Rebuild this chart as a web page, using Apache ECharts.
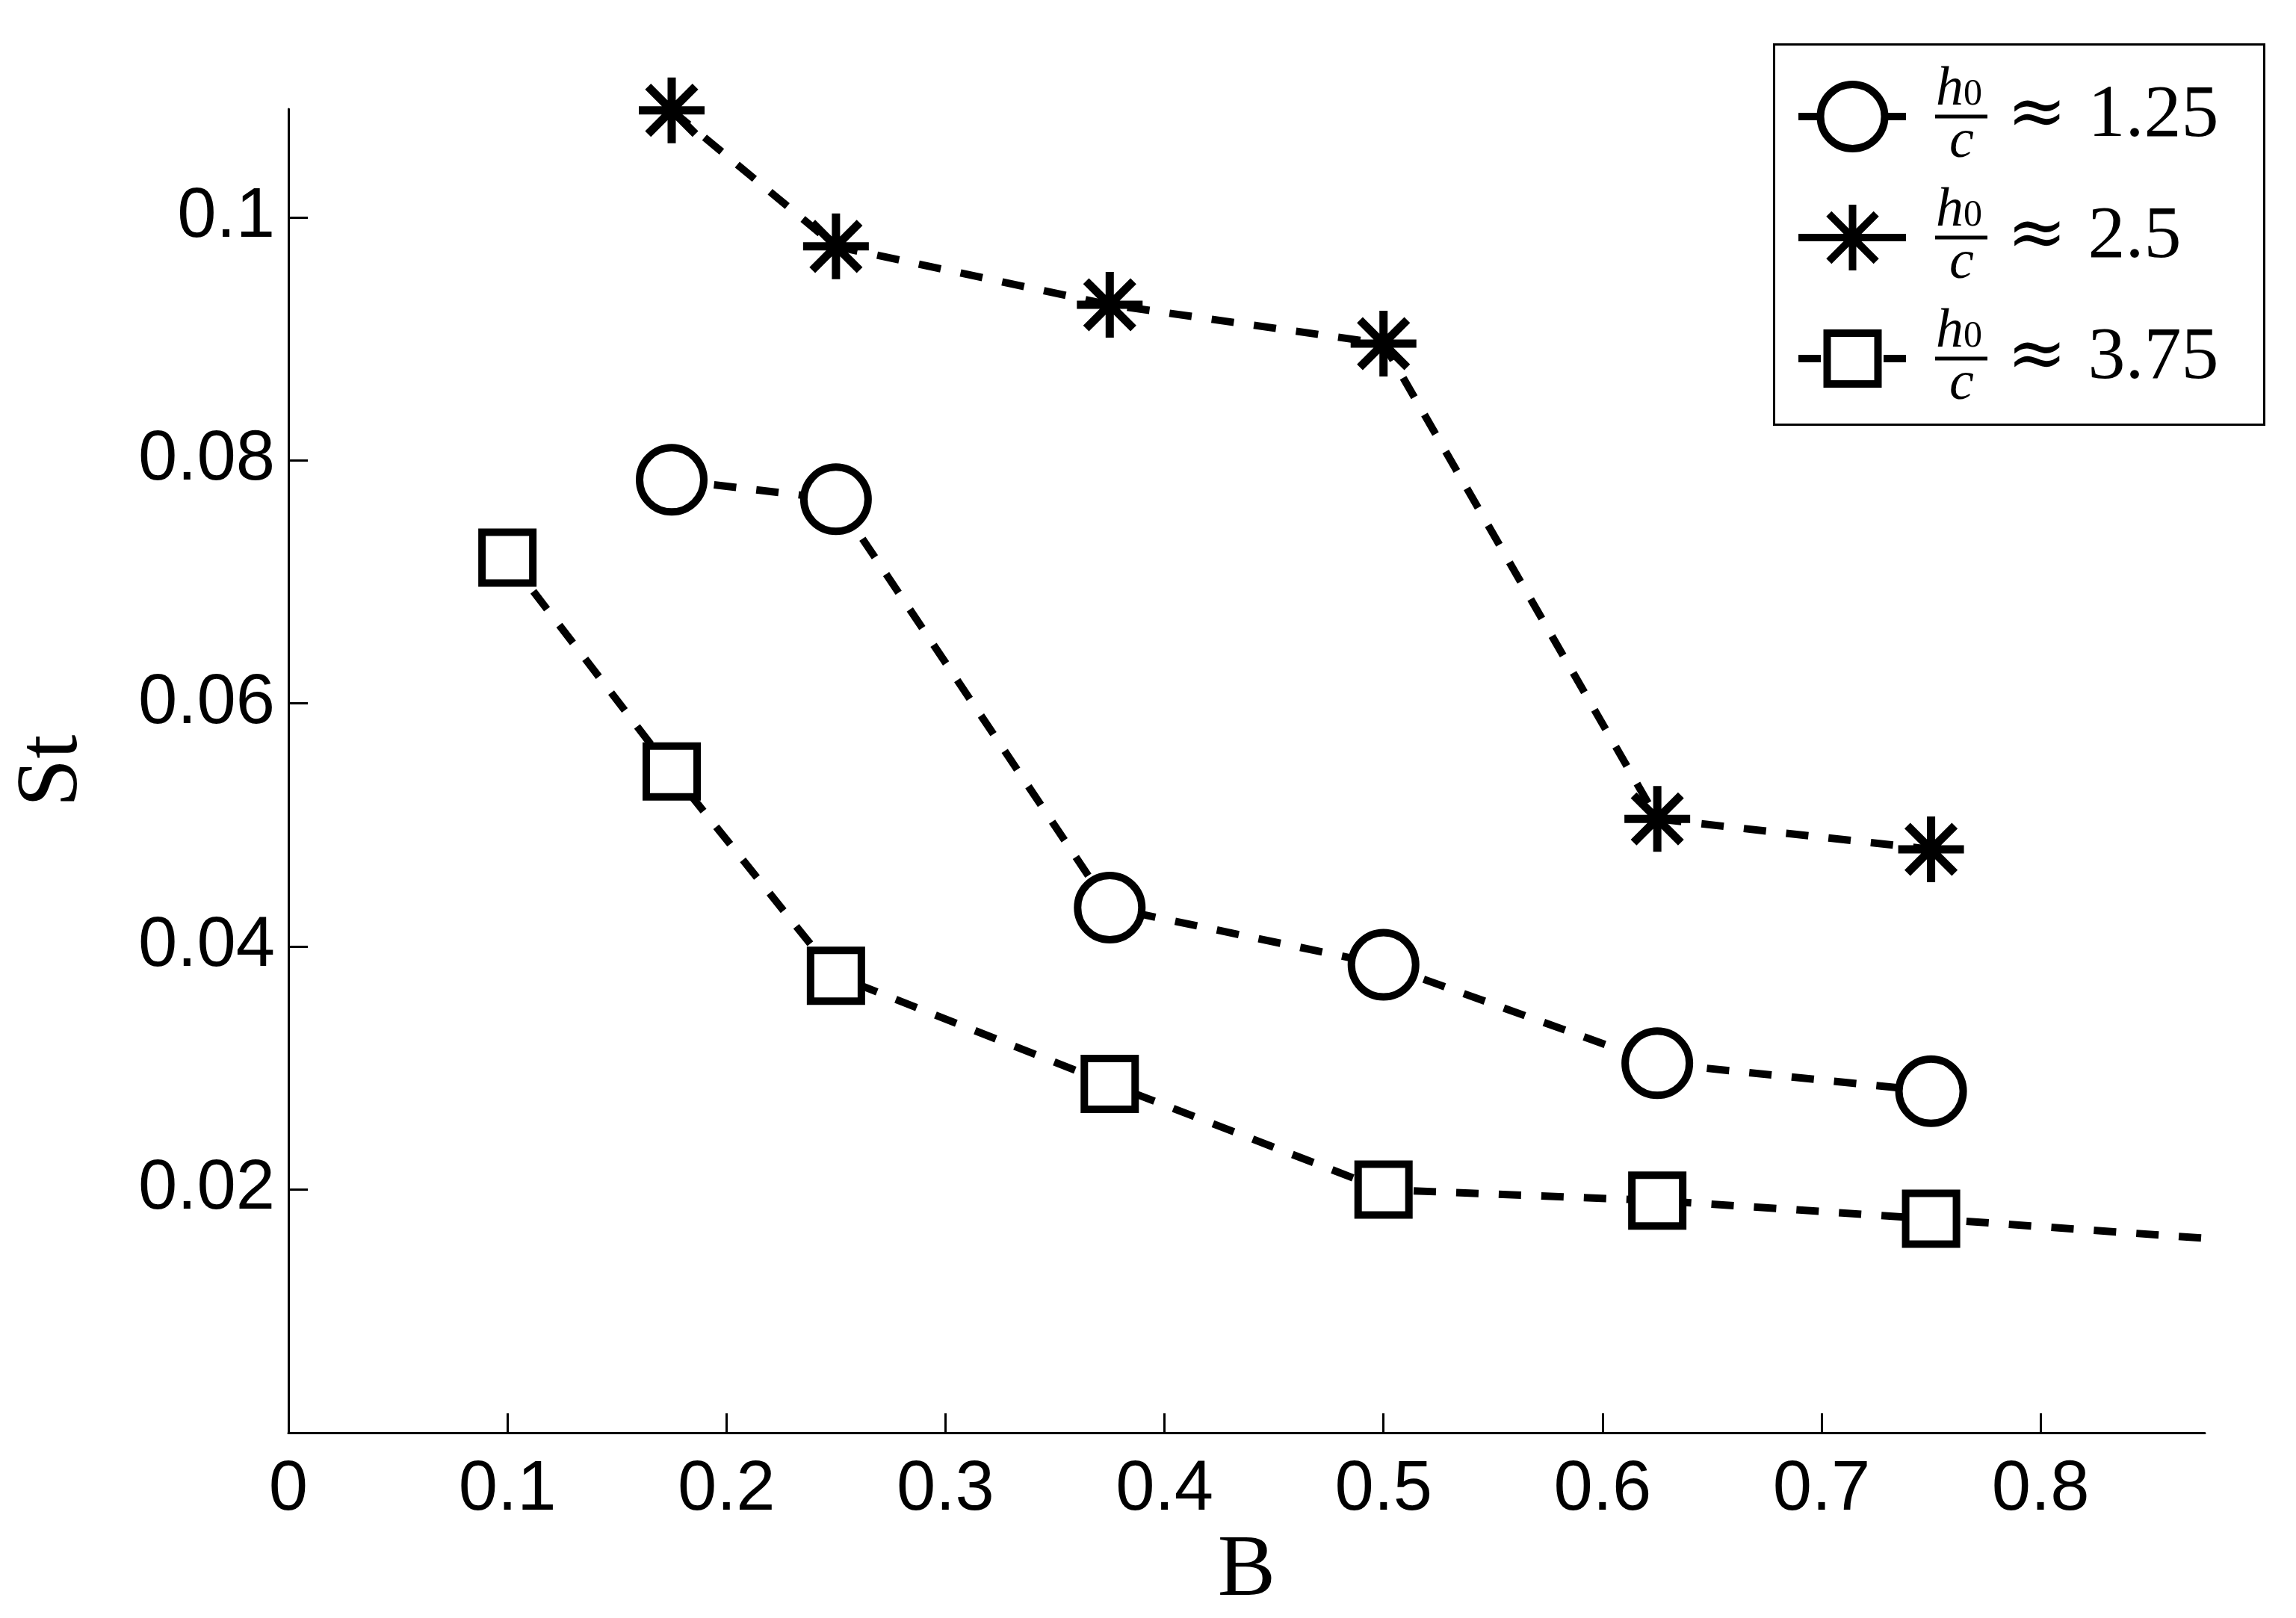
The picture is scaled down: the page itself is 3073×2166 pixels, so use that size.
<!DOCTYPE html>
<html>
<head>
<meta charset="utf-8">
<script src="https://cdn.jsdelivr.net/npm/echarts@6/dist/echarts.min.js"></script>
<style>
  html, body { margin: 0; padding: 0; background: #fff; }
  #chart { width: 3073px; height: 2166px; }
</style>
</head>
<body>
<div id="chart"></div>
<script>
// values
var bCircle = [0.175, 0.25, 0.375, 0.5, 0.625, 0.75]
var stCircle = [0.0784, 0.0768, 0.0432, 0.0385, 0.0304, 0.0281]
var bStar = [0.175, 0.25, 0.375, 0.5, 0.625, 0.75]
var stStar = [0.1088, 0.0976, 0.0928, 0.0896, 0.0505, 0.0480]
var bSquare = [0.1, 0.175, 0.25, 0.375, 0.5, 0.625, 0.75, 1.0]
var stSquare = [0.0720, 0.0544, 0.0376, 0.0287, 0.0200, 0.0191, 0.0176, 0.0144]

var ratios = ['1.25', '2.5', '3.75']
var seriesNames = ['h0/c ≈ 1.25', 'h0/c ≈ 2.5', 'h0/c ≈ 3.75']

var xTicks = [0, 0.1, 0.2, 0.3, 0.4, 0.5, 0.6, 0.7, 0.8]
var yTicks = [0.02, 0.04, 0.06, 0.08, 0.1]

var starPath = 'path://M0,-1L0,1M-1,0L1,0M-0.72,-0.72L0.72,0.72M-0.72,0.72L0.72,-0.72'
var dash = [30, 27]

function pairs(xs, ys) {
  return xs.map(function (x, i) { return [x, ys[i]] })
}

var chart = echarts.init(document.getElementById('chart'), null, { renderer: 'canvas' })

var richStyle = {
  sp1: { width: 34, lineHeight: 62 },
  h: { fontFamily: 'Liberation Serif', fontStyle: 'italic', fontSize: 74, lineHeight: 62, color: '#000' },
  sub: { fontFamily: 'Liberation Serif', fontSize: 50, lineHeight: 44, verticalAlign: 'bottom', color: '#000' },
  sp2: { width: 33, lineHeight: 8 },
  bar: { width: 70, height: 5, lineHeight: 8, backgroundColor: '#000' },
  g1: { width: 26, lineHeight: 8 },
  ap: { fontFamily: 'DejaVu Serif', fontSize: 96, lineHeight: 8, color: '#000' },
  g2: { width: 28, lineHeight: 8 },
  val: { fontFamily: 'Liberation Serif', fontSize: 100, lineHeight: 8, color: '#000' },
  sp3: { width: 52, lineHeight: 62 },
  c: { fontFamily: 'Liberation Serif', fontStyle: 'italic', fontSize: 74, lineHeight: 62, color: '#000' }
}

function legendText(name) {
  var r = ratios[seriesNames.indexOf(name)]
  return '{sp1| }{h|h}{sub|0}\n{sp2| }{bar| }{g1| }{ap|≈}{g2| }{val|' + r + '}\n{sp3| }{c|c}'
}

function makeLegend(name, top, itemHeight) {
  return {
    data: [name],
    orient: 'vertical',
    left: 2402,
    top: top,
    padding: 0,
    itemWidth: 145,
    itemHeight: itemHeight,
    selectedMode: false,
    formatter: legendText,
    textStyle: { fontSize: 8, lineHeight: 8, color: '#000', rich: richStyle },
    lineStyle: { color: '#000', width: 10, type: dash, cap: 'butt' },
    itemStyle: { borderColor: '#000', borderWidth: 10 }
  }
}

chart.setOption({
  backgroundColor: '#fff',
  animation: false,
  grid: { left: 386, right: 122, top: 146, bottom: 248, containLabel: false, outerBoundsMode: 'none' },
  legend: [
    makeLegend(seriesNames[0], 84, 86 / 0.8),
    makeLegend(seriesNames[1], 246, 88 / 0.8),
    makeLegend(seriesNames[2], 408, 68 / 0.8)
  ],
  graphic: [{
    type: 'rect',
    left: 2372,
    top: 57,
    shape: { width: 656, height: 509 },
    style: { fill: 'none', stroke: '#000', lineWidth: 3 },
    z: 100
  }],
  xAxis: {
    type: 'value',
    min: 0,
    max: 0.875,
    name: 'B',
    nameLocation: 'middle',
    nameGap: 122,
    nameTextStyle: { fontFamily: 'Liberation Serif', fontSize: 116, color: '#000' },
    axisLine: { show: true, onZero: false, lineStyle: { color: '#000', width: 3 } },
    axisTick: { show: true, inside: true, length: 26, customValues: xTicks, lineStyle: { color: '#000', width: 3 } },
    axisLabel: {
      customValues: xTicks,
      margin: 30,
      fontFamily: 'Liberation Sans',
      fontSize: 94,
      color: '#000',
      formatter: function (v) { return String(v) }
    },
    splitLine: { show: false }
  },
  yAxis: {
    type: 'value',
    min: 0,
    max: 0.1089,
    name: 'St',
    nameLocation: 'middle',
    nameRotate: 90,
    nameGap: 256,
    nameTextStyle: { fontFamily: 'Liberation Serif', fontSize: 116, color: '#000' },
    axisLine: { show: true, onZero: false, lineStyle: { color: '#000', width: 3 } },
    axisTick: { show: true, inside: true, length: 26, customValues: yTicks, lineStyle: { color: '#000', width: 3 } },
    axisLabel: {
      customValues: yTicks,
      margin: 18,
      fontFamily: 'Liberation Sans',
      fontSize: 94,
      color: '#000',
      formatter: function (v) { return String(v) }
    },
    splitLine: { show: false }
  },
  series: [
    {
      name: seriesNames[0],
      type: 'line',
      data: pairs(bCircle, stCircle),
      symbol: 'circle',
      symbolSize: 86,
      clip: true,
      lineStyle: { color: '#000', width: 10, type: dash, cap: 'butt' },
      itemStyle: { color: '#fff', borderColor: '#000', borderWidth: 10 },
      z: 3
    },
    {
      name: seriesNames[1],
      type: 'line',
      data: pairs(bStar, stStar),
      symbol: starPath,
      symbolSize: 88,
      symbolKeepAspect: false,
      clip: false,
      lineStyle: { color: '#000', width: 10, type: dash, cap: 'butt' },
      itemStyle: { color: 'none', borderColor: '#000', borderWidth: 11 },
      z: 3
    },
    {
      name: seriesNames[2],
      type: 'line',
      data: pairs(bSquare, stSquare),
      symbol: 'rect',
      symbolSize: 68,
      clip: true,
      lineStyle: { color: '#000', width: 10, type: dash, cap: 'butt' },
      itemStyle: { color: '#fff', borderColor: '#000', borderWidth: 10 },
      z: 3
    }
  ]
})
</script>
</body>
</html>
